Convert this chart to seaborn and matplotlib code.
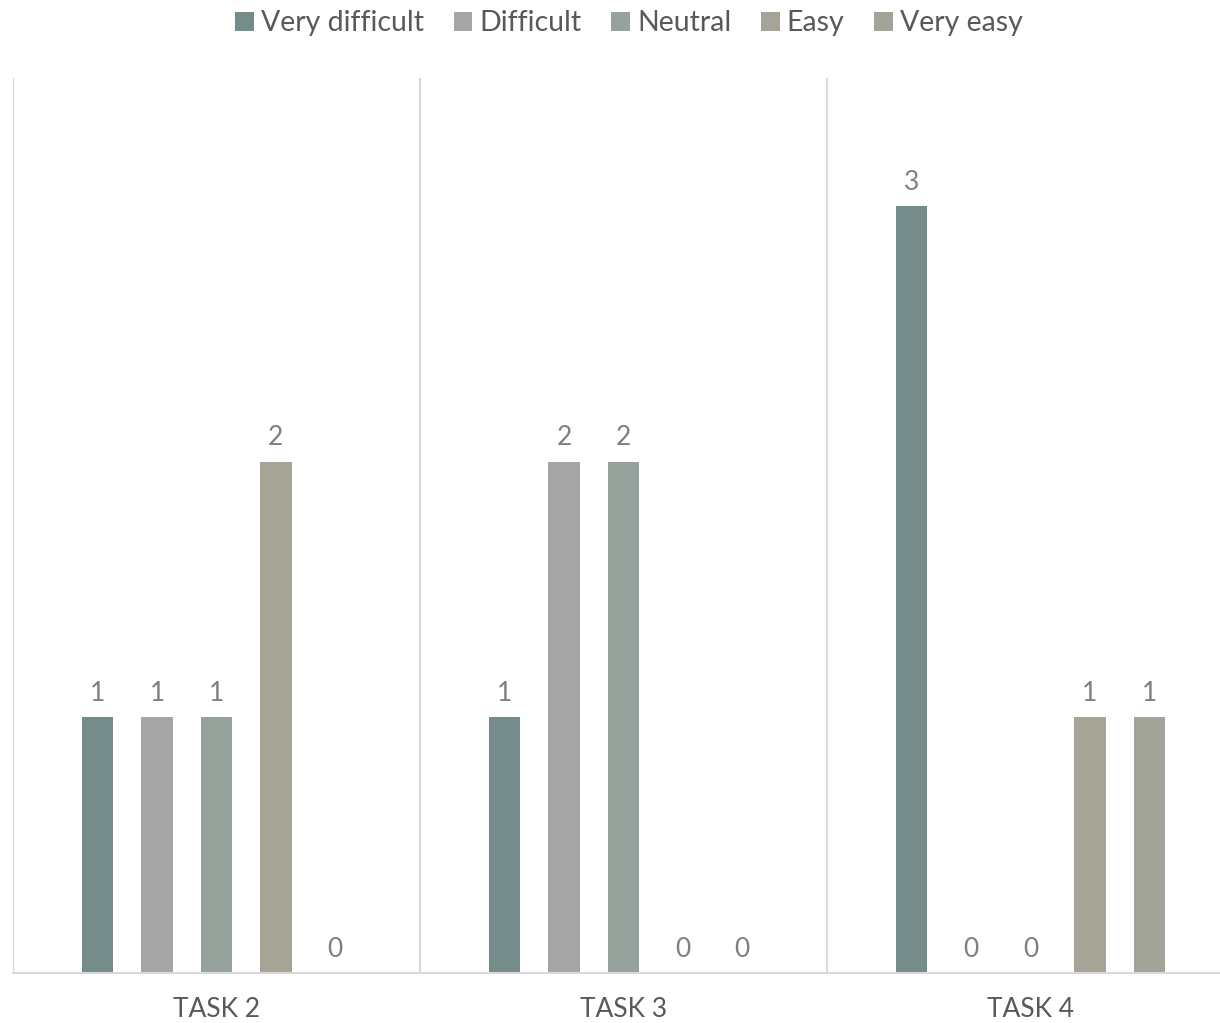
import matplotlib
matplotlib.use("Agg")
import matplotlib.pyplot as plt
import seaborn as sns
import pandas as pd

tasks = ["TASK 2", "TASK 3", "TASK 4"]
ratings = ["Very difficult", "Difficult", "Neutral", "Easy", "Very easy"]
very_difficult = [1, 1, 3]
difficult = [1, 2, 0]
neutral = [1, 2, 0]
easy = [2, 0, 1]
very_easy = [0, 0, 1]
colors = ["#738F8E", "#A5A5A5", "#93A59C", "#A9A594", "#A3A697"]

series = [very_difficult, difficult, neutral, easy, very_easy]
rows = []
for r, vals in zip(ratings, series):
    for t, v in zip(tasks, vals):
        rows.append({"task": t, "rating": r, "value": v})
df = pd.DataFrame(rows)

sns.set_theme(style="white")
plt.rcParams["font.family"] = ["Lato", "DejaVu Sans"]

fig = plt.figure(figsize=(12.2, 10.23), dpi=100)
ax = fig.add_axes([13 / 1220, 50 / 1023, 1221 / 1220, 895 / 1023])

sns.barplot(data=df, x="task", y="value", hue="rating", order=tasks,
            hue_order=ratings, palette=colors, width=0.73, gap=0.47,
            edgecolor="none", linewidth=0, ax=ax, legend=True)

ax.set_ylim(0, 3.5)
ax.set_xlim(-0.5, 2.5)
ax.set_xlabel("")
ax.set_ylabel("")
ax.set_yticks([])
for s in ["top", "right", "left"]:
    ax.spines[s].set_visible(False)
ax.spines["bottom"].set_color("#D9D9D9")
ax.spines["bottom"].set_linewidth(1.5)
for xb in [-0.5, 0.5, 1.5, 2.5]:
    ax.axvline(xb, color="#D9D9D9", lw=1.5, zorder=0)

ax.tick_params(axis="x", length=0, pad=17)
for lab in ax.get_xticklabels():
    lab.set_fontsize(19)
    lab.set_color("#595959")

for cont in ax.containers:
    ax.bar_label(cont, labels=[f"{int(v)}" for v in cont.datavalues],
                 padding=8, fontsize=19, color="#7F7F7F")

handles, labels = ax.get_legend_handles_labels()
ax.get_legend().remove()
fig.legend(handles, labels, loc="upper center", bbox_to_anchor=(629 / 1220, 1.015),
           ncol=5, frameon=False, fontsize=20.5, labelcolor="#595959",
           handlelength=0.65, handleheight=0.65, handletextpad=0.25,
           columnspacing=1.05)

fig.savefig("out.png", dpi=100)
